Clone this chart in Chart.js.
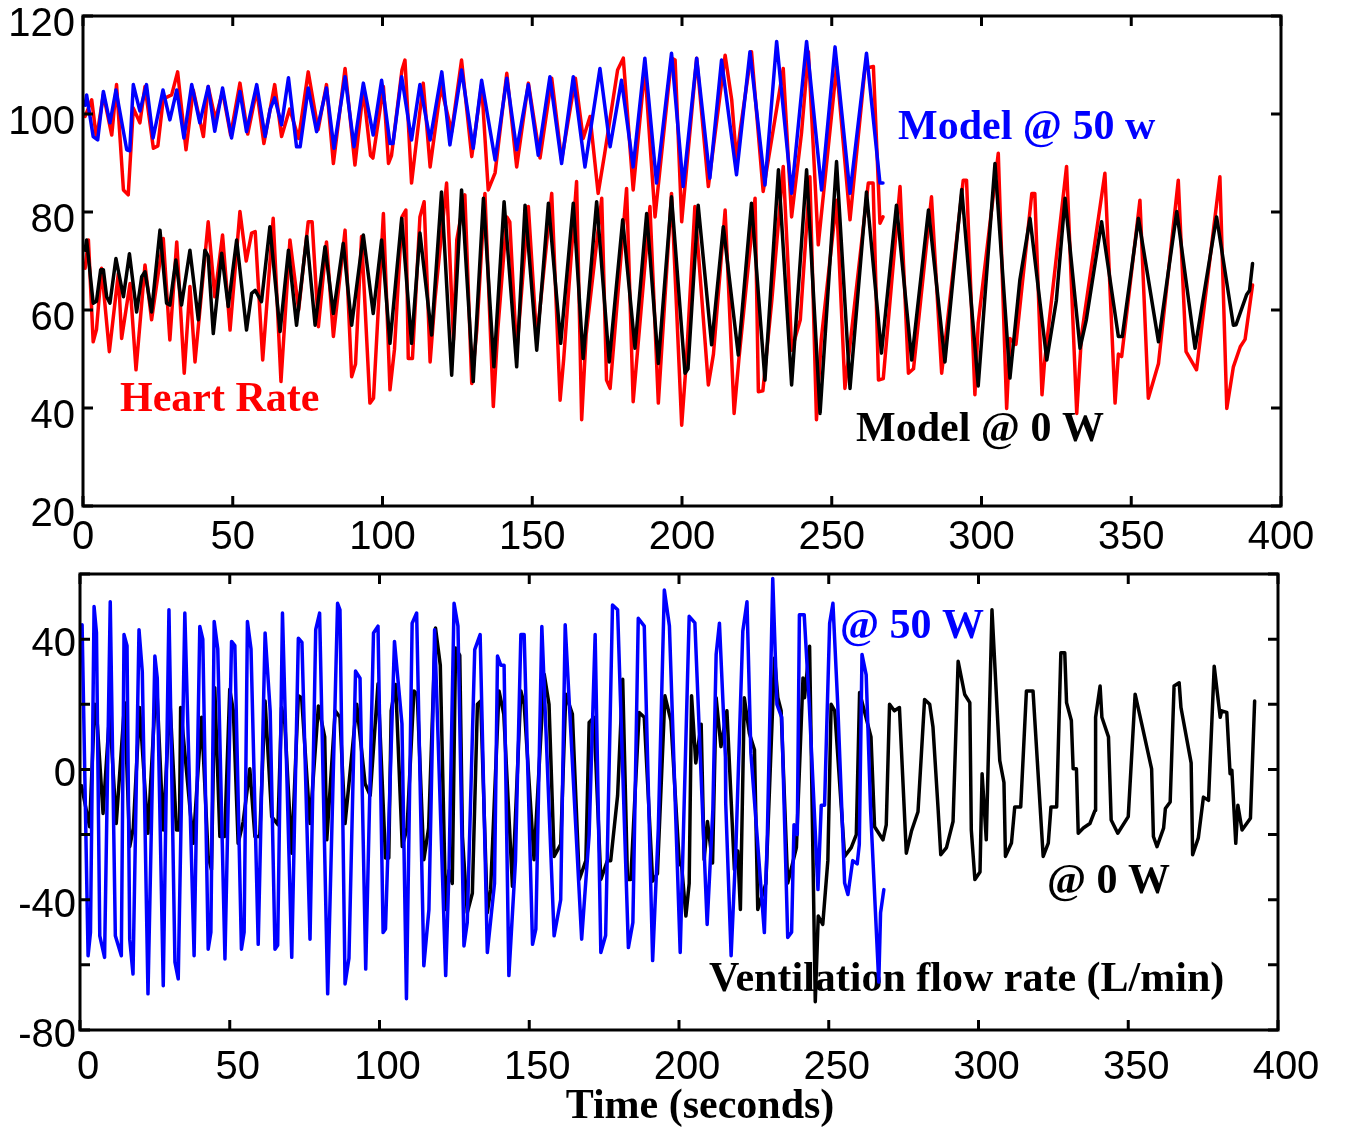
<!DOCTYPE html>
<html>
<head>
<meta charset="utf-8">
<script src="https://cdn.jsdelivr.net/npm/chart.js@4.4.1/dist/chart.umd.min.js"></script>
<style>
  html, body { margin: 0; padding: 0; background: #fff; }
  canvas { position: absolute; left: 0; }
  #heartRate { top: 0; }
  #ventilation { top: 560px; }
</style>
</head>
<body>
<canvas id="heartRate" width="1346" height="560"></canvas>
<canvas id="ventilation" width="1346" height="568"></canvas>
<script>
// [time (s), value] pairs
const hrModel50 = [[0.7,101.8],[1.2,103.9],[3.4,95.4],[4.9,94.7],[6.8,104.6],[9,98.2],[11,104.9],[14.6,92.7],[15.6,92.5],[16.8,106],[19,100.6],[21.2,106],[23.4,95.1],[26.7,104.9],[29,98.8],[31.3,104.9],[33.7,95.1],[36.3,106],[39,98.2],[41.8,105.6],[44,96.5],[46.6,105.3],[49.6,95.1],[52.4,104.6],[54.6,96.4],[58,106],[60.8,95.4],[62.5,101],[64,103.3],[66.3,97.8],[68.6,107.4],[71.3,93.3],[72.5,93.3],[75.2,105.3],[78,96.4],[81.3,105.3],[83.8,93],[87.5,107.6],[90.5,93.3],[93.6,106.3],[96.9,95.7],[99.7,106.9],[102.5,94],[103.5,94],[106.4,107.6],[109.7,94.7],[112.5,106],[115.9,94.7],[119.8,108.6],[122.5,93.7],[126.4,109],[130.3,93],[133.1,106.9],[137.6,90.6],[141.5,107.3],[144.8,92.7],[148.7,106],[152,91.6],[155.9,107.6],[159.8,89.9],[163.7,107.6],[167.6,89.2],[172.6,109.3],[176,93.3],[179.8,106.9],[183.7,89.2],[187.6,111.4],[191.5,85.9],[196.5,112.4],[200.4,85.2],[204.9,111.4],[209.3,86.9],[213.2,111],[218.2,87.6],[222.7,112.7],[227.7,85.5],[231.6,114.8],[236.6,83.8],[241.6,114.8],[246.6,84.5],[251.1,113.7],[256.1,83.8],[261.6,112.4],[266.1,85.9],[267.1,85.9]];

const hrData50 = [[0.7,99.5],[2.9,102.9],[4.5,95],[6.8,104],[9.6,95.7],[11.2,106],[13.5,84.5],[15.1,83.5],[16.8,101.2],[19,98.2],[20.7,105.6],[23.5,93],[25,93.5],[26.8,103.1],[29.6,103.9],[31.6,108.6],[34.4,92.7],[36.8,104.9],[40.2,95.4],[41.8,105.6],[44.2,98.9],[46.6,104.6],[49.3,95.7],[52.4,106.3],[55,95.9],[58,104.9],[60.4,94],[64,106],[66.3,95.4],[69,101],[72,95],[75.2,108.6],[78.5,96.8],[81.3,106],[83.6,89.9],[87.5,109.3],[90.8,89.6],[93.6,104.9],[96,91.5],[96.8,91],[100.3,105.6],[102,89.9],[103,91.5],[106.5,109],[107.5,111],[109.7,85.9],[113.6,106.3],[115.9,89.2],[119.5,105.6],[123.1,96.4],[126.4,111],[129.8,91.3],[133.1,106],[135.3,84.5],[137.6,88],[141.5,108.3],[144.8,89.2],[148.7,106.3],[152.6,91],[156.5,107.3],[159.8,90.6],[164.4,107.3],[167,95],[169.3,99.5],[172,83.8],[174.2,92],[178.5,109],[180.4,111.4],[183.7,84.5],[187.6,109.3],[191,79],[196.5,111.4],[197.7,111],[199.9,78],[204.9,111.4],[208.8,85.2],[214.4,112],[216.6,102.9],[218.2,90.6],[219.5,97],[223.2,112.7],[227.1,84.2],[233.8,109.3],[236.6,79],[239.9,96.1],[242.2,112.7],[245.5,73.3],[251.6,109.7],[256.1,78.4],[261.1,109.3],[263.9,109.7],[266.1,77.7],[267.1,79]];

const hrModel0 = [[0.7,72.2],[1.2,74.3],[3.4,61.4],[4.5,61.8],[5.9,68.2],[6.8,68.2],[7.9,62.7],[9,61.4],[11,70.5],[13.5,62.7],[15.5,71.5],[17.9,59.6],[19.6,66.8],[20.7,67.8],[22.9,59.6],[25.7,76.3],[27.9,61.4],[29,61],[31,70.2],[32.9,61],[35.7,72.2],[38.5,58],[40.7,72.2],[41.8,71],[43.5,55.2],[46.3,71.6],[48.5,60.7],[51.3,74.3],[54.6,55.9],[56.3,63.4],[57.5,64],[59.6,61.7],[62.4,77],[65.8,55.6],[68.6,72.2],[71.3,56.9],[74.7,75],[77.5,56.9],[80.8,72.9],[83.6,59.3],[86.9,73.6],[89.7,56.9],[93.6,75.3],[96.9,59.3],[99.7,74.3],[102.5,53.2],[106.4,78.7],[109.7,53.2],[112.5,75.7],[116.4,54.9],[119.7,84.1],[123.1,46.7],[126.4,84.5],[130.3,45.4],[133.7,82.8],[137.2,48.4],[140.6,82.1],[144.8,48.4],[147.6,81.4],[151.5,51.8],[155.4,81.8],[159.5,53.2],[163.7,81.8],[167,50.1],[171.5,82.1],[175.7,49.4],[180.2,78.4],[184.3,52.2],[188.2,79.7],[192.1,49.1],[196.5,83.1],[201,47.1],[202,48],[205.4,81.4],[209.9,52.9],[213.8,77],[218.8,50.8],[223.2,81.8],[227.7,45.7],[232.2,88.6],[236.6,44.7],[241.6,88.6],[246.1,38.9],[251.6,90.3],[256.1,44],[261.6,84.1],[266.6,51.2],[271.6,81.4],[276.7,49.8],[282.3,80.4],[287.8,49.4],[293.4,84.6],[298.9,44.5],[304.5,89.9],[309.5,46.1],[312.8,66.1],[316.2,78.7],[321.8,49.8],[325,62],[327.9,82.8],[332.9,52.2],[335,58],[340.1,78],[345.7,54.6],[347,54.6],[352.4,78.7],[359.1,53.5],[365.2,80.1],[371.3,52.2],[378.5,79],[384.1,56.9],[385,57],[388.5,63.1],[389.5,64],[390.5,69.5]];

const hrData0 = [[0.7,68.5],[1.8,74.3],[3.4,53.5],[4.5,56],[6.2,68.5],[8.8,51.5],[11.8,67.5],[12.9,54.2],[15.7,65.4],[17.7,47.8],[20.7,69.2],[22.9,58],[26.8,74.6],[29,53.9],[31.3,73.9],[33.8,47.1],[35.7,64.8],[37.4,49.4],[41.8,78],[44,62.7],[46.6,75.3],[49.1,55.9],[52.4,80.1],[54.5,70],[56.3,75.7],[57.5,76],[60,49.8],[63.5,78.7],[66.1,45.4],[69.1,74.3],[72,60],[75.2,78],[76.5,78],[78.6,56.6],[81.3,73.9],[83.6,54.6],[87.5,76.3],[89.7,46.4],[91,49],[93,75],[95.8,41],[97,42],[100.3,79.7],[102.5,43.7],[104,52],[106.5,79],[107.8,80.4],[108.6,50.1],[110,50.1],[112.5,79],[113.9,82.1],[115.9,49.4],[117.5,62],[121.4,85.9],[123.7,53.9],[124.8,74.3],[127.5,83.5],[129.8,45],[131.5,56],[134.2,83.8],[137,40.3],[138.5,56],[141.5,79],[142.5,78],[144.8,51.2],[148.7,81.1],[151.5,53.9],[156.5,83.8],[159.3,41.6],[160.5,50],[164.8,86.2],[166.5,37.6],[168,55],[173.2,82.8],[174.8,45.7],[176,44],[181.5,84.8],[183.7,41.3],[189.3,81.1],[192.1,41],[196.5,83.8],[199.9,36.5],[201.5,50],[204.3,81.1],[208.8,44.7],[210.5,51],[214.4,80.4],[217.4,38.9],[219,50],[224.4,82.8],[225.5,43.3],[227,43.5],[230,62],[233.8,89.3],[235.5,68],[236.6,51.8],[239.5,58],[242.7,87.2],[244.9,37.6],[246.5,54],[251.6,82.4],[254.4,44],[256.5,55],[262.2,85.9],[263.8,85.9],[265.6,45.7],[267.2,46],[272.8,85.2],[275.6,47.1],[277.3,48],[283.3,83.1],[286.7,47.1],[293.9,86.5],[295,86.5],[297.8,42.7],[298.9,57.3],[305.6,92],[308.4,39.9],[309.5,54.2],[311.5,53],[316.8,83.8],[317.8,83.8],[320.2,42.7],[321,49],[328.4,89.3],[331.8,38.9],[333.4,54.9],[341.2,87.9],[344.6,41],[345.7,51],[346.8,50.5],[352.9,82.4],[355.7,42],[359.1,49.1],[365.7,86.5],[368.3,51.5],[371.8,47.8],[379.6,87.2],[381.9,39.9],[384.1,48.4],[386.4,52.5],[388,54],[390.5,65.1]];

const ventModel50 = [[0.7,44.4],[2.7,-57.2],[3.5,-50],[4.7,50],[5.5,42],[6.6,-51.1],[8.2,-57.7],[10.1,51.5],[11.8,-51.1],[13.8,-57.2],[14.7,41.4],[15.7,38],[16.6,-52.1],[17.7,-62.8],[19.7,42.9],[20.8,30],[22.7,-68.9],[25,34.8],[25.8,28],[27.8,-66.4],[29.7,49],[31.7,-59.2],[32.8,-64.3],[35,48],[38.1,-57.2],[40,43.9],[41,40],[42.8,-55.2],[43.7,-50],[44.8,45.4],[46,37],[48.4,-58.2],[50.6,39.3],[51.7,38],[53.9,-55.2],[54.8,-50],[55.9,45.4],[57.1,37],[59.5,-53.7],[61.8,41.9],[63.5,18],[65.1,-55.2],[66,-54],[67.6,48],[70.7,-57.7],[72.9,40.3],[74.1,39],[76.8,-52.1],[78.7,42.9],[80,48],[82.7,-68.9],[86,51],[86.8,49],[88.5,-65.9],[89.8,-58],[92,30.2],[93.5,28],[95.4,-61.3],[98,41.9],[99.5,44],[101.2,-50.1],[102,-49],[105,39.3],[107.5,14],[109,-70.4],[110.9,44.9],[112.4,48],[114.8,-60.3],[116.5,-43],[118.4,42.9],[122.1,-63.3],[123.2,-31],[124.9,51],[126.2,44],[128.2,-54.2],[129.3,-47],[131.8,36.8],[133.6,41.4],[136,-56.2],[138.4,-35],[139.4,34.8],[140.5,32],[141.6,32],[143.2,-63.3],[145.4,-28],[147.2,41.4],[148.3,41.4],[151.1,-53.7],[152.2,-49],[154.2,43.9],[158.3,-51.1],[160.5,-40],[162,44.4],[167.5,-52.1],[170,-20],[172,41.4],[173.9,-56.2],[175.5,-51],[177.8,50.5],[179.5,49],[183.1,-54.7],[184.6,-47],[186.4,46.4],[188.4,44],[191.2,-58.7],[193.1,-18],[195.1,55.1],[196.8,44],[200.4,-56.2],[203.4,47],[205.3,45],[209.4,-47.6],[211.3,-12.5],[212.4,35.3],[213.5,44.9],[215.5,3.7],[215.6,-10.4],[217.4,-57.2],[219,-24],[221.3,42.4],[222.7,51.5],[224,5],[228.5,-50.1],[229.5,-20],[231.3,58.6],[232.7,20],[234.3,16],[236.3,-51.6],[237.6,-50],[238.4,-17],[239.5,-20],[240.2,47.5],[241.8,47.5],[243.5,20],[246.4,-36.9],[247.5,-11],[248.6,-11],[250.3,44.9],[251.4,51],[253,20],[255.3,-34.9],[256.4,-38.4],[258,-28],[259.5,-29],[260.2,-23],[261.1,35.3],[262.5,29],[264,-13],[266.7,-65.3],[267.3,-44],[268.4,-36.9]];

const ventModel0 = [[0.5,-5],[3.2,-17.6],[4.9,20],[5.5,18],[7.7,-13.5],[9.9,17.5],[12.1,-16.6],[14.9,20.5],[16.6,-23.7],[17.8,-18],[19.9,19],[22.7,-19.6],[25.5,28.1],[27.8,-18.6],[30,21.5],[32.2,-18.6],[33.2,-18.6],[33.6,19],[37.8,-22.7],[40.6,16],[42.8,-26.7],[43.9,-30.8],[45,25.1],[46.7,-20.6],[48.3,-20.6],[50,24.6],[51.2,18],[52.8,-22.7],[54.5,-16],[56.7,0.2],[58.4,-20.6],[60,-20.6],[61.8,21],[64,-14.5],[66.1,-17],[67.3,19],[68.4,14],[70.7,-25.7],[72.9,22.6],[74,22],[76.8,-16.6],[79.6,19.5],[81.7,10],[82.4,-21.6],[85.2,18],[86.8,16],[88.5,-16.6],[92.4,20],[95.2,-4.4],[96.9,-8],[99.5,26.3],[102,-27.2],[103.1,-27.2],[103.9,18],[105.4,26.1],[107.6,-23.7],[109.2,-18],[111.5,24.1],[112.6,23],[114.8,-27.7],[116.4,-18],[118.7,43.4],[120.3,32],[122.1,-43],[123.2,-31],[124.3,-35],[125.4,37.3],[126.8,35],[127.7,-20.6],[128.2,-28],[129.3,-44],[131,-38],[132.7,20],[133.8,21],[136,-44],[137.1,-37],[139.9,24.1],[141.5,17],[144.4,-35.9],[147.2,24.1],[148.3,20],[151.6,-27.7],[155,29.2],[156.6,20],[158.3,-26.7],[160.5,-23],[162.2,23.1],[164.4,17],[166.7,-33.8],[168.9,-28],[170,14.4],[171.6,16],[173.9,-33.8],[176.1,-28],[177.2,-28],[179.5,-8],[181.2,27.7],[182.8,-33.8],[183.9,-33.8],[186.7,17.5],[188.4,16],[191.2,-34.3],[192.8,-32],[195.3,22.6],[197.3,15],[200.1,-28.7],[200.9,-29.8],[202.3,-45],[203.4,-35],[204.2,22.6],[205.6,2],[207.4,13.9],[208.4,-27.7],[209.5,-16],[211.2,-28.7],[212.4,22],[214,7],[216,18],[218.5,-30.8],[219.6,-25],[220.5,-43],[221.8,22],[223.5,11],[225.2,6],[226.3,-43],[229,-35],[231.9,34.2],[233,22],[234.1,18],[236.3,-34.9],[239.2,-24],[241.4,28.1],[241.9,22],[243.6,37.8],[245.5,-71.3],[246.5,-45],[248,-47.6],[249.7,-28],[250.8,20],[252,18],[255.3,-26.7],[257.5,-24],[259.2,-20],[260.3,23.6],[264.1,10],[265.3,-17.6],[268.1,-21.6],[269.2,-17],[270.3,20],[271.9,18],[273.6,19],[275.9,-25.7],[277.6,-19],[279.8,-13],[282,21.5],[283.7,20],[284.8,13],[286.5,-12],[287.4,-26.2],[289.3,-24],[291.5,-16],[293.2,33.2],[295.4,23],[297.1,20.5],[297.6,-18.6],[298.8,-33.8],[300.5,-31.5],[301.2,-1.3],[302.6,-21.6],[304.5,49],[307.1,2.7],[308.5,-4],[309,-26.7],[311,-22.6],[312.1,-11.5],[314.1,-11.5],[316,24.1],[318.2,24.1],[321.6,-26.7],[323.3,-22.6],[324.2,-11.5],[326.1,-11.5],[327.5,35.8],[328.8,35.8],[329.4,20.5],[331,15],[331.6,0.2],[332.7,0.2],[333.3,-19.6],[335,-18],[337.2,-16.6],[338.9,-12.6],[339.1,16],[340.6,25.6],[341.2,16],[343.4,10],[344.3,-15.5],[346.5,-19.6],[350,-14.5],[352.3,23.1],[354.5,14],[357.8,0.2],[358.4,-20.6],[359.6,-23.7],[361.8,-18],[362.4,-12],[364,-10],[365.3,25.6],[367,26.6],[367.6,19],[371,2],[371.5,-26.2],[373.4,-21],[375.1,-8.5],[376.8,-9.5],[378.7,31.7],[380.7,16],[381.2,18],[382.9,17.5],[384,-1.3],[384.6,-0.3],[385.9,-22.7],[386.6,-11],[388,-18.6],[390.8,-15],[392.2,21]];

const timeTicks = [0, 50, 100, 150, 200, 250, 300, 350, 400];
const hrTicks = [20, 40, 60, 80, 100, 120];
const ventTicks = [-80, -40, 0, 40];

const toPoints = arr => arr.map(p => ({x: p[0], y: p[1]}));

const labelFont = {family: 'Liberation Sans', size: 40};
const noteFont = 'bold 42px "Liberation Serif"';

// box round the plot with inward tick marks, plus the text notes
const frame = {
  id: 'frame',
  beforeDatasetsDraw(chart, args, opts) {
    const c = chart.ctx;
    c.save();
    c.font = noteFont;
    c.textBaseline = 'middle';
    opts.notes.forEach(n => {
      c.fillStyle = n.color;
      c.fillText(n.text, n.x, n.y);
    });
    c.restore();
  },
  afterDraw(chart) {
    const c = chart.ctx;
    const a = chart.chartArea;
    const sx = chart.scales.x, sy = chart.scales.y;
    c.save();
    c.strokeStyle = '#000';
    c.lineWidth = 3;
    c.strokeRect(a.left, a.top, a.right - a.left, a.bottom - a.top);
    c.beginPath();
    sx.ticks.forEach(t => {
      const px = sx.getPixelForValue(t.value);
      c.moveTo(px, a.top); c.lineTo(px, a.top + 10);
      c.moveTo(px, a.bottom); c.lineTo(px, a.bottom - 10);
    });
    sy.ticks.forEach(t => {
      const py = sy.getPixelForValue(t.value);
      c.moveTo(a.left, py); c.lineTo(a.left + 10, py);
      c.moveTo(a.right, py); c.lineTo(a.right - 10, py);
    });
    c.stroke();
    c.restore();
  }
};

function line(data, color) {
  return {
    data: toPoints(data),
    borderColor: color,
    borderWidth: 3.5,
    borderJoinStyle: 'round',
    borderCapStyle: 'round',
    pointRadius: 0,
    tension: 0,
    fill: false
  };
}

new Chart(document.getElementById('heartRate'), {
  type: 'line',
  data: {
    datasets: [
      line(hrModel50, '#0000ff'),
      line(hrModel0, '#000000'),
      line(hrData50, '#ff0000'),
      line(hrData0, '#ff0000')
    ]
  },
  options: {
    responsive: false,
    animation: false,
    layout: {padding: {top: 16, right: 65, left: 0, bottom: 0}},
    plugins: {
      legend: {display: false},
      tooltip: {enabled: false},
      frame: {notes: [
        {text: 'Model @ 50 w', color: '#0000ff', x: 898, y: 128},
        {text: 'Heart Rate', color: '#ff0000', x: 120, y: 400},
        {text: 'Model @ 0 W', color: '#000000', x: 856, y: 430}
      ]}
    },
    scales: {
      x: {
        type: 'linear', min: 0, max: 400,
        afterBuildTicks: s => { s.ticks = timeTicks.map(v => ({value: v})); },
        grid: {display: false, drawTicks: false},
        border: {display: false},
        ticks: {font: labelFont, color: '#000', padding: 8, maxRotation: 0},
        afterFit: s => { s.height = 54; s.paddingLeft = 0; s.paddingRight = 0; }
      },
      y: {
        min: 20, max: 120,
        afterBuildTicks: s => { s.ticks = hrTicks.map(v => ({value: v})); },
        grid: {display: false, drawTicks: false},
        border: {display: false},
        ticks: {font: labelFont, color: '#000', padding: 8, labelOffset: 9},
        afterFit: s => { s.width = 83; s.paddingTop = 0; s.paddingBottom = 0; }
      }
    }
  },
  plugins: [frame]
});

new Chart(document.getElementById('ventilation'), {
  type: 'line',
  data: {
    datasets: [
      line(ventModel50, '#0000ff'),
      line(ventModel0, '#000000')
    ]
  },
  options: {
    responsive: false,
    animation: false,
    layout: {padding: {top: 14, right: 68, left: 0, bottom: 0}},
    plugins: {
      legend: {display: false},
      tooltip: {enabled: false},
      frame: {notes: [
        {text: '@ 50 W', color: '#0000ff', x: 840, y: 67},
        {text: '@ 0 W', color: '#000000', x: 1047, y: 322},
        {text: 'Ventilation flow rate (L/min)', color: '#000000', x: 709, y: 420}
      ]}
    },
    scales: {
      x: {
        type: 'linear', min: 0, max: 400,
        afterBuildTicks: s => { s.ticks = timeTicks.map(v => ({value: v})); },
        grid: {display: false, drawTicks: false},
        border: {display: false},
        ticks: {font: labelFont, color: '#000', padding: 14, maxRotation: 0, labelOffset: 8},
        title: {
          display: true,
          text: '    Time (seconds)',
          color: '#000',
          font: {family: 'Liberation Serif', weight: 'bold', size: 42, lineHeight: 1},
          padding: 0
        },
        afterFit: s => { s.height = 98; s.paddingLeft = 0; s.paddingRight = 0; }
      },
      y: {
        min: -80, max: 60,
        afterBuildTicks: s => {
          s.ticks = [-80, -60, -40, -20, 0, 20, 40, 60].map(v => ({value: v}));
        },
        grid: {display: false, drawTicks: false},
        border: {display: false},
        ticks: {
          font: labelFont, color: '#000', padding: 4, labelOffset: 6,
          callback: v => ventTicks.includes(v) ? String(v) : ''
        },
        afterFit: s => { s.width = 80; s.paddingTop = 0; s.paddingBottom = 0; }
      }
    }
  },
  plugins: [frame]
});
</script>
</body>
</html>
